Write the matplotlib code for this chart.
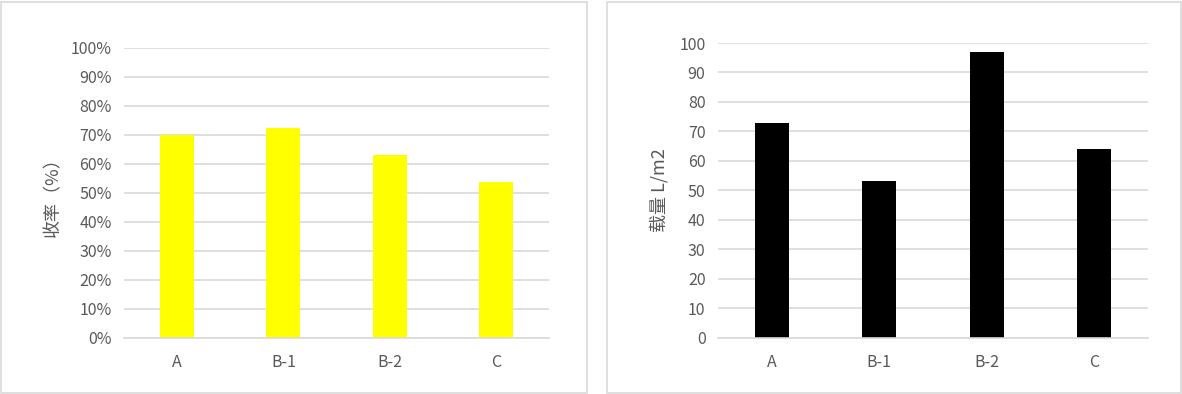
import matplotlib.pyplot as plt
from matplotlib.patches import Rectangle
from matplotlib.ticker import PercentFormatter

plt.rcParams['font.family'] = ['Noto Sans CJK SC', 'DejaVu Sans']

categories = ['A', 'B-1', 'B-2', 'C']
yield_rate = [0.70, 0.722, 0.629, 0.536]   # 收率
load_vals = [73, 53, 97, 64]               # 载量 L/m2

grid_c = '#d9d9d9'
text_c = '#595959'

fig = plt.figure(figsize=(11.82, 3.94), dpi=100)

# chart frames, like the excel chart area borders
W, H = 1182, 394
for x0, x1 in [(1, 587), (607, 1181)]:
    fig.patches.append(Rectangle((x0 / W, 1.5 / H), (x1 - x0) / W, (392 - 1.5) / H,
                                 transform=fig.transFigure, fill=False,
                                 edgecolor=grid_c, linewidth=1.2))


def style(ax):
    for s in ['top', 'right', 'left']:
        ax.spines[s].set_visible(False)
    ax.spines['bottom'].set_color(grid_c)
    ax.spines['bottom'].set_linewidth(1.2)
    ax.grid(axis='y', color=grid_c, linewidth=1.2)
    ax.set_axisbelow(True)
    ax.tick_params(length=0, colors=text_c, labelsize=11.5)
    ax.tick_params(axis='y', pad=9)
    ax.tick_params(axis='x', pad=12)
    ax.set_xlim(-0.5, 3.5)


# left: yield
ax1 = fig.add_axes([124 / W, (H - 337.5) / H, (549 - 124) / W, 290 / H])
ax1.bar(categories, yield_rate, width=0.32, color='#ffff00')
ax1.set_ylim(0, 1)
ax1.set_yticks([i / 10 for i in range(11)])
ax1.yaxis.set_major_formatter(PercentFormatter(1.0, decimals=0))
style(ax1)
ax1.set_ylabel('收率（%）', color=text_c, fontsize=13, labelpad=6)

# right: load
ax2 = fig.add_axes([718 / W, (H - 337.5) / H, (1148 - 718) / W, 294.5 / H])
ax2.bar(categories, load_vals, width=0.32, color='black')
ax2.set_ylim(0, 100)
ax2.set_yticks(range(0, 101, 10))
style(ax2)
ax2.set_ylabel('载量 L/m2', color=text_c, fontsize=13, labelpad=8)

fig.savefig('out.png', dpi=100)
